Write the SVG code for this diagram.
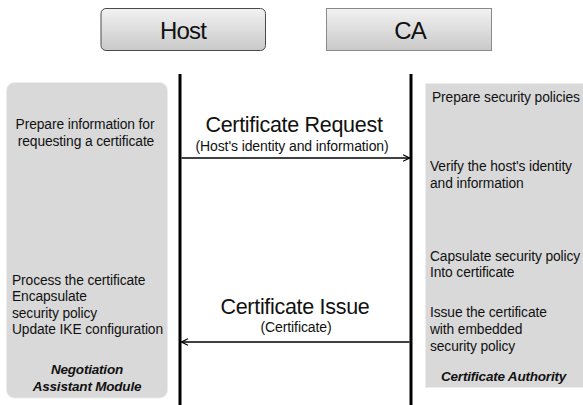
<svg xmlns="http://www.w3.org/2000/svg" width="583" height="405" viewBox="0 0 583 405">
  <defs>
    <linearGradient id="hdrFill" x1="0" y1="0" x2="0" y2="1">
      <stop offset="0" stop-color="#f2f2f2"/>
      <stop offset="1" stop-color="#c9c9c9"/>
    </linearGradient>
    <marker id="open" viewBox="0 0 10 10" refX="9" refY="5" markerWidth="8" markerHeight="8" markerUnits="userSpaceOnUse" orient="auto-start-reverse">
      <path d="M1,1 L9,5 L1,9" fill="none" stroke="#000" stroke-width="1.4"/>
    </marker>
    <style>
      text { font-family: "Liberation Sans", Arial, sans-serif; fill: #111; }
      .title { font-size: 24px; text-anchor: middle; letter-spacing: -0.8px; }
      .note { font-size: 13.8px; letter-spacing: -0.1px; }
      .mid { text-anchor: middle; }
      .role { font-size: 13.5px; font-weight: bold; font-style: italic; letter-spacing: -0.2px; }
      .msg { font-size: 21.5px; text-anchor: middle; letter-spacing: -0.3px; }
      .sub { font-size: 14px; text-anchor: middle; letter-spacing: -0.1px; }
      .panel { fill: #d9d9d9; stroke: #ececec; stroke-width: 1; }
      .life { stroke: #000; stroke-width: 3; }
      .msgline { stroke: #000; stroke-width: 1.3; fill: none; marker-end: url(#open); }
    </style>
  </defs>

  <rect width="583" height="405" fill="#fff"/>

  <!-- participant headers -->
  <g id="host">
    <rect x="101" y="8.5" width="164.5" height="42" rx="5" fill="url(#hdrFill)" stroke="#4a4a4a" stroke-width="1"/>
    <text class="title" x="183" y="38.5">Host</text>
  </g>
  <g id="ca">
    <rect x="326.5" y="8.5" width="165" height="42" fill="url(#hdrFill)" stroke="#8a8a8a" stroke-width="1"/>
    <text class="title" x="410" y="38.5">CA</text>
  </g>

  <!-- host-side activity panel -->
  <g id="host-panel">
    <rect class="panel" x="6.5" y="82.5" width="161" height="315.5" rx="8"/>
    <text class="note mid" x="85" y="129">Prepare information for</text>
    <text class="note mid" x="86" y="146">requesting a certificate</text>
    <text class="note" x="12" y="285">Process the certificate</text>
    <text class="note" x="12" y="301">Encapsulate</text>
    <text class="note" x="12" y="318">security policy</text>
    <text class="note" x="12" y="334">Update IKE configuration</text>
    <text class="role mid" x="87" y="374">Negotiation</text>
    <text class="role mid" x="87" y="391">Assistant Module</text>
  </g>

  <!-- CA-side activity panel -->
  <g id="ca-panel">
    <rect class="panel" x="425.5" y="83.5" width="162" height="304"/>
    <text class="note" x="432" y="102">Prepare security policies</text>
    <text class="note" x="430" y="171">Verify the host's identity</text>
    <text class="note" x="430" y="188">and information</text>
    <text class="note" x="430" y="261">Capsulate security policy</text>
    <text class="note" x="430" y="277">Into certificate</text>
    <text class="note" x="430" y="317">Issue the certificate</text>
    <text class="note" x="430" y="334">with embedded</text>
    <text class="note" x="430" y="351">security policy</text>
    <text class="role" x="441" y="381">Certificate Authority</text>
  </g>

  <!-- lifelines and messages -->
  <g id="connectors">
    <line class="life" x1="180" y1="74" x2="180" y2="405"/>
    <line class="life" x1="411" y1="74" x2="411" y2="405"/>
    <line class="msgline" x1="181.5" y1="158" x2="409.5" y2="158"/>
    <line class="msgline" x1="409.5" y1="342" x2="181.5" y2="342"/>
  </g>

  <g id="msg-request">
    <text class="msg" x="294" y="132">Certificate Request</text>
    <text class="sub" x="292" y="151">(Host's identity and information)</text>
  </g>
  <g id="msg-issue">
    <text class="msg" x="295" y="314">Certificate Issue</text>
    <text class="sub" x="296" y="332">(Certificate)</text>
  </g>
</svg>
